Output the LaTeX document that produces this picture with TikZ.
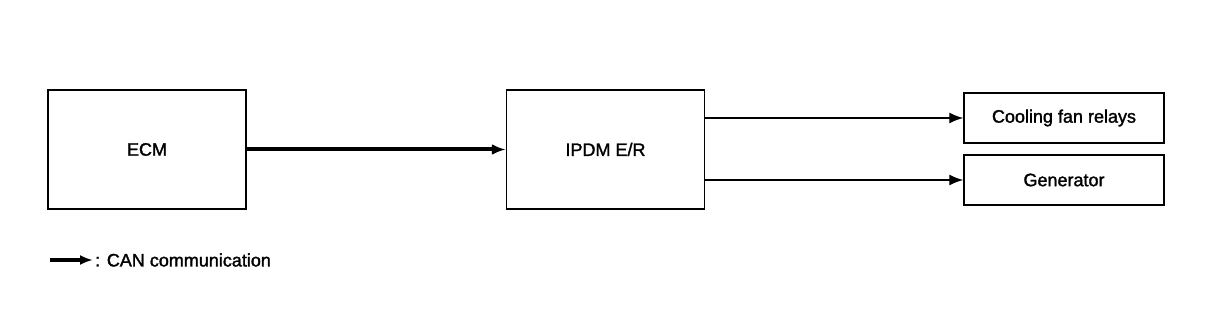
\documentclass[tikz,border=0pt]{standalone}
\usepackage{fontspec}
\setmainfont{Liberation Sans}[FakeBold=1.6]
\usetikzlibrary{arrows.meta}
\begin{document}
\begin{tikzpicture}[x=1pt,y=-1pt,
  lbl/.style={font=\fontsize{18}{20}\selectfont},
  blk/.style={draw,line width=1.5pt,minimum width=198pt,minimum height=119pt,inner sep=0pt,lbl},
  sblk/.style={draw,line width=1.5pt,minimum width=200pt,minimum height=50pt,inner sep=0pt,lbl},
  canline/.style={line width=4pt,-{Latex[length=14pt,width=11pt]}},
  sigline/.style={line width=1.4pt,-{Latex[length=14pt,width=11pt]}}]
\useasboundingbox (0,0) rectangle (1216,326);
\node[blk] (ecm) at (147,149.5) {ECM};
\node[blk] (ipdm) at (605.5,149.5) {IPDM E/R};
\node[sblk] (fan) at (1064,118) {Cooling fan relays};
\node[sblk] (gen) at (1064,180) {Generator};
\draw[canline] (ecm.east) -- (ipdm.west);
\draw[sigline] (ipdm.east |- fan.west) -- (fan.west);
\draw[sigline] (ipdm.east |- gen.west) -- (gen.west);
\coordinate (la) at (50,260);
\coordinate (lb) at (93,260);
\draw[line width=4pt,-{Latex[length=13pt,width=10pt]}] (la) -- (lb);
\node[anchor=west,inner sep=0pt,lbl] (leg) at (95,260) {: CAN communication};
\end{tikzpicture}
\end{document}
